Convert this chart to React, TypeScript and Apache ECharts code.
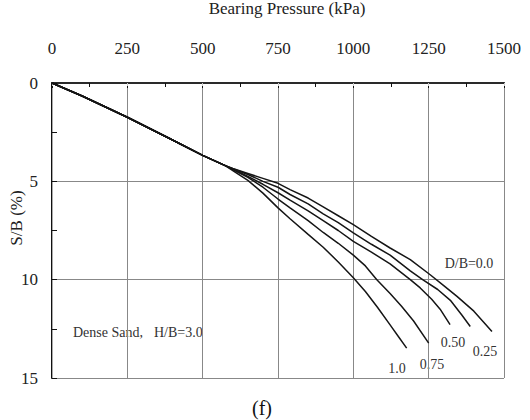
import React, { useEffect, useRef } from "react";
import * as echarts from "echarts";

const FONT = "Liberation Serif";

// Shared initial branch (all curves coincide)
const commonP = [0, 100, 250, 400, 500, 575];
const commonS = [0, 0.66, 1.74, 2.9, 3.68, 4.2];

const p10 = [600, 650, 700, 750, 790, 850, 900, 950, 1000, 1040, 1080, 1122, 1150, 1177];
const s10 = [4.45, 4.95, 5.6, 6.35, 6.9, 7.7, 8.35, 9.1, 9.9, 10.6, 11.4, 12.3, 12.9, 13.48];

const p075 = [600, 650, 700, 750, 790, 850, 900, 950, 1000, 1040, 1078, 1122, 1160, 1200, 1250];
const s075 = [4.4, 4.8, 5.3, 5.9, 6.35, 7.0, 7.6, 8.15, 8.75, 9.3, 10.0, 10.7, 11.35, 12.1, 13.23];

const p050 = [600, 650, 700, 750, 790, 850, 900, 950, 1000, 1060, 1122, 1189, 1222, 1260, 1288, 1321];
const s050 = [4.38, 4.75, 5.15, 5.58, 5.96, 6.5, 7.0, 7.5, 8.05, 8.6, 9.2, 10.0, 10.42, 11.0, 11.5, 12.29];

const p00 = [600, 650, 700, 750, 790, 850, 900, 950, 1000, 1060, 1122, 1189, 1230, 1280, 1322, 1360, 1388];
const s00 = [4.36, 4.65, 5.0, 5.3, 5.67, 6.15, 6.65, 7.1, 7.62, 8.2, 8.75, 9.55, 10.0, 10.5, 11.05, 11.8, 12.38];

const p025 = [600, 650, 700, 750, 790, 850, 900, 950, 1000, 1060, 1122, 1189, 1255, 1300, 1344, 1400, 1460];
const s025 = [4.35, 4.6, 4.85, 5.1, 5.42, 5.85, 6.3, 6.75, 7.2, 7.8, 8.39, 8.98, 9.75, 10.3, 10.85, 11.6, 12.63];

const curveNames = ["D/B=1.0", "D/B=0.75", "D/B=0.50", "D/B=0.0", "D/B=0.25"];
const curveP = [p10, p075, p050, p00, p025];
const curveS = [s10, s075, s050, s00, s025];

const xTicks = { min: 0, max: 1500, interval: 250 };
const yTicks = { min: 0, max: 15, interval: 5 };

function build(ps: number[], ss: number[]) {
  const all = commonP.map((p, i) => [p, commonS[i]]);
  ps.forEach((p, i) => all.push([p, ss[i]]));
  return all;
}

export default function App() {
  const ref = useRef<HTMLDivElement>(null);
  useEffect(() => {
    if (!ref.current) return;
    const chart = echarts.init(ref.current, undefined, { renderer: "svg" });
    const txt = { fontFamily: FONT, color: "#222" };
    const lbl = (text: string, x: number, y: number, align = "center") => ({
      type: "text",
      x,
      y,
      style: { text, font: `14px ${FONT}`, fill: "#333", align, verticalAlign: "middle" },
    });
    chart.setOption({
      animation: false,
      backgroundColor: "#fff",
      textStyle: { fontFamily: FONT },
      grid: { left: 52, right: 26, top: 83, bottom: 42, outerBoundsMode: "none" },
      xAxis: [
        {
          type: "value",
          position: "top",
          ...xTicks,
          name: "Bearing Pressure (kPa)",
          nameLocation: "middle",
          nameGap: 66,
          nameTextStyle: { ...txt, fontSize: 17, padding: [0, 0, 0, 18] },
          axisLine: { lineStyle: { color: "#111", width: 2 } },
          axisTick: { inside: true, length: 5, lineStyle: { color: "#111", width: 1 } },
          minorTick: { show: true, splitNumber: 2, length: 4, lineStyle: { color: "#111", width: 1 } },
          axisLabel: { ...txt, fontSize: 17, margin: 26, formatter: (v: number) => String(v) },
          splitLine: { show: true, lineStyle: { color: "#888", width: 1 } },
        },
        {
          type: "value",
          position: "bottom",
          ...xTicks,
          axisLine: { lineStyle: { color: "#333", width: 1.5 } },
          axisTick: { show: true, length: 3, lineStyle: { color: "#ccc" } },
          axisLabel: { show: false },
          splitLine: { show: false },
        },
      ],
      yAxis: [
        {
          type: "value",
          inverse: true,
          position: "left",
          ...yTicks,
          axisLine: { lineStyle: { color: "#111", width: 2 } },
          axisTick: { inside: true, length: 5, lineStyle: { color: "#111", width: 1 } },
          minorTick: { show: true, splitNumber: 2, length: 5, lineStyle: { color: "#111", width: 1 } },
          axisLabel: { ...txt, fontSize: 17, margin: 14, formatter: (v: number) => String(v) },
          splitLine: { show: true, lineStyle: { color: "#888", width: 1.2 } },
        },
        {
          type: "value",
          inverse: true,
          position: "right",
          ...yTicks,
          axisLine: { show: true, lineStyle: { color: "#aaa", width: 1 } },
          axisTick: { show: false },
          axisLabel: { show: false },
          splitLine: { show: false },
        },
      ],
      series: curveNames.map((name, i) => ({
        name,
        type: "line",
        xAxisIndex: 0,
        yAxisIndex: 0,
        data: build(curveP[i], curveS[i]),
        showSymbol: false,
        smooth: false,
        lineStyle: { color: "#151515", width: 1.5 },
      })),
      graphic: [
        {
          type: "text",
          x: 16,
          y: 218,
          rotation: Math.PI / 2,
          style: { text: "S/B (%)", font: `17px ${FONT}`, fill: "#222", align: "center", verticalAlign: "middle" },
        },
        lbl("D/B=0.0", 469, 263),
        lbl("0.50", 453, 342),
        lbl("0.25", 485, 351),
        lbl("0.75", 432, 364),
        lbl("1.0", 397, 368),
        lbl("Dense Sand,", 73, 332, "left"),
        lbl("H/B=3.0", 154, 332, "left"),
        { type: "text", x: 262, y: 408, style: { text: "(f)", font: `20px ${FONT}`, fill: "#111", align: "center", verticalAlign: "middle" } },
      ],
    });
    return () => chart.dispose();
  }, []);
  return <div ref={ref} style={{ width: 530, height: 420, position: "absolute", left: 0, top: 0 }} />;
}
